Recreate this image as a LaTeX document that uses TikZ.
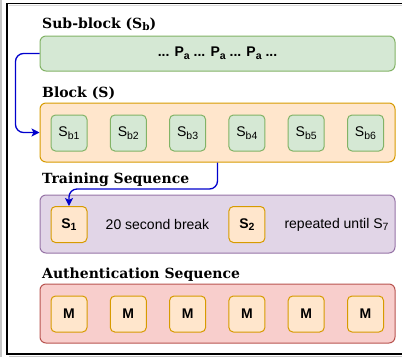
\documentclass[tikz,border=0pt]{standalone}
\usepackage{fontspec}
\setmainfont{DejaVu Serif}
\newfontfamily\hv{Liberation Sans}
\usetikzlibrary{arrows.meta}
\definecolor{gfill}{HTML}{D5E8D4}\definecolor{gdraw}{HTML}{82B366}
\definecolor{ofill}{HTML}{FFE6CC}\definecolor{odraw}{HTML}{D79B00}
\definecolor{pfill}{HTML}{E1D5E7}\definecolor{pdraw}{HTML}{9673A6}
\definecolor{rfill}{HTML}{F8CECC}\definecolor{rdraw}{HTML}{B85450}
\definecolor{arrc}{HTML}{0000CC}
\newcommand{\sbs}[1]{\raisebox{-0.35ex}{\fontsize{10.5}{10.5}\selectfont #1}}
\tikzset{
  bigbox/.style={rounded corners=6pt, line width=1pt, minimum width=355pt, inner sep=0pt},
  smallbox/.style={rounded corners=4.5pt, line width=1pt, minimum width=36pt, minimum height=36pt, inner sep=0pt, font=\hv\fontsize{14}{16}\selectfont},
  gsmall/.style={smallbox, fill=gfill, draw=gdraw},
  osmall/.style={smallbox, fill=ofill, draw=odraw, font=\hv\bfseries\fontsize{14}{16}\selectfont},
  title/.style={anchor=base west, inner sep=0pt, font=\bfseries\fontsize{14}{16}\selectfont},
  plain/.style={inner sep=0pt, font=\hv\fontsize{14}{16}\selectfont},
  conn/.style={draw=arrc, line width=1.3pt, rounded corners=8pt, -{Stealth[length=8pt,width=8pt,inset=2pt]}}
}
\begin{document}
\begin{tikzpicture}[x=1pt,y=-1pt]
\useasboundingbox (0,0) rectangle (402,360);
% outer frame
\draw[gray!45, line width=1.5pt] (1,0) -- (1,357);
\draw[gray!45, line width=1.5pt] (9,356.5) -- (402,356.5);
\draw[gray!30, line width=1pt] (9,5.5) -- (402,5.5);
\draw[black, line width=1.2pt] (403,3.5) -- (7,3.5) -- (7,354) -- (403,354);

% titles
\node[title] (t1) at (42,28) {Sub-block (S\sbs{b})};
\node[title] (t2) at (42,97) {Block (S)};
\node[title] (t3) at (42,183) {Training Sequence};
\node[title] (t4) at (42,278) {Authentication Sequence};

% big boxes
\node[bigbox, fill=gfill, draw=gdraw, minimum height=35pt, font=\hv\bfseries\fontsize{14}{16}\selectfont] (sub) at (217.5,53.5)
  {... P\sbs{a} ... P\sbs{a} ... P\sbs{a} ...};
\node[bigbox, fill=ofill, draw=odraw, minimum height=59pt] (blk) at (217.5,132.5) {};
\node[bigbox, fill=pfill, draw=pdraw, minimum height=58pt] (trn) at (217.5,224) {};
\node[bigbox, fill=rfill, draw=rdraw, minimum height=59pt] (aut) at (217.5,313.5) {};

% block contents
\foreach \i/\x in {1/69,2/128.3,3/187.6,4/246.9,5/306.2,6/365.5}{
  \node[gsmall] (sb\i) at (\x,133) {S\sbs{b\i}};
  \node[osmall] (m\i) at (\x,314) {M};
}

% training contents
\node[osmall] (s1) at (69,224.5) {S\sbs{1}};
\node[plain] (brk) at (157.5,224.5) {20 second break};
\node[osmall] (s2) at (246.9,224.5) {S\sbs{2}};
\node[plain] (rep) at (336.5,224.5) {repeated until S\sbs{7}};

% connectors
\coordinate (c1) at (15.5,53.5);
\draw[conn] (sub.west) -- (c1) |- (blk.west);
\coordinate (c2) at (217.5,189);
\draw[conn] (blk.south) -- (c2) -| (s1.north);
\end{tikzpicture}
\end{document}
